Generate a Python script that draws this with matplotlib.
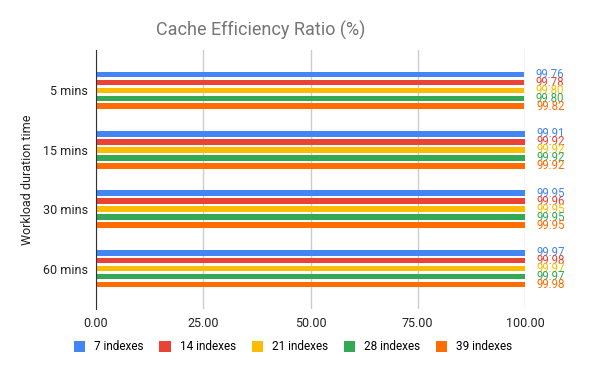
import matplotlib
matplotlib.use("Agg")
import matplotlib.pyplot as plt
import numpy as np

categories = ["5 mins", "15 mins", "30 mins", "60 mins"]
series_names = ["7 indexes", "14 indexes", "21 indexes", "28 indexes", "39 indexes"]
s7 = [99.76, 99.91, 99.95, 99.97]
s14 = [99.78, 99.92, 99.96, 99.98]
s21 = [99.80, 99.92, 99.95, 99.97]
s28 = [99.80, 99.92, 99.95, 99.97]
s39 = [99.82, 99.92, 99.95, 99.98]
series = [s7, s14, s21, s28, s39]
colors = ["#4285F4", "#EA4335", "#FBBC04", "#34A853", "#FF6D01"]
xticks = [0, 25, 50, 75, 100]

plt.rcParams['font.family'] = ['Roboto', 'DejaVu Sans']

fig = plt.figure(figsize=(6, 3.71), dpi=100)
ax = fig.add_axes([96/600, 1-309/371, (525-96)/600, (309-50)/371])

y = np.arange(len(categories))
step = 0.134
thick = 0.096
handles = []
for j, (vals, c, name) in enumerate(zip(series, colors, series_names)):
    pos = y + (j - 2) * step
    b = ax.barh(pos, vals, height=thick, color=c, label=name)
    handles.append(b)
    for p, v in zip(pos, vals):
        ax.annotate(f"{v:.2f}", xy=(v, p), xytext=(8.5, 0), textcoords='offset points',
                    ha='left', va='center', fontsize=8.3, color=c)

ax.set_xlim(0, 100)
ax.set_ylim(len(categories) - 1 + 0.68, -0.68)
ax.set_yticks(y)
ax.set_yticklabels(categories, fontsize=9, color="#222222")
ax.set_xticks(xticks)
ax.set_xticklabels([f"{t:.2f}" for t in xticks], fontsize=9, color="#222222")
ax.tick_params(length=0, pad=6)
ax.grid(axis='x', color='#cccccc', linewidth=1)
ax.set_axisbelow(True)
for s in ['top', 'right', 'bottom']:
    ax.spines[s].set_visible(False)
ax.spines['left'].set_color('#333333')
ax.set_ylabel("Workload duration time", fontsize=9, color="#222222", labelpad=6)

fig.text(261/600, 1-30/371, "Cache Efficiency Ratio (%)", ha='center', va='center',
         fontsize=13, color="#757575")

fig.legend(handles=handles, labels=series_names, loc='center', ncol=5,
           bbox_to_anchor=(293/600, 1-347/371), frameon=False, fontsize=8.5,
           handlelength=0.95, handleheight=0.95, handletextpad=0.75, columnspacing=1.35)

fig.savefig("out.png", dpi=100)
